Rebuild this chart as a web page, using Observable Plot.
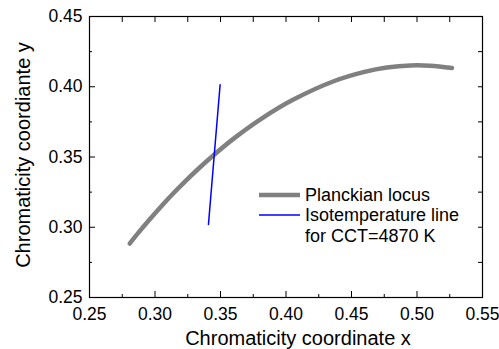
<!DOCTYPE html>
<html>
<head>
<meta charset="utf-8">
<script src="https://cdn.jsdelivr.net/npm/d3@7"></script>
<script src="https://cdn.jsdelivr.net/npm/@observablehq/plot@0.6"></script>
<style>
  html, body { margin: 0; padding: 0; background: #fff; }
  #chart { width: 499px; height: 349px; }
</style>
</head>
<body>
<div id="chart"></div>
<script>
// Planckian locus (CIE 1931 x, y)
const locusX = [0.2807, 0.2869, 0.2952, 0.3064, 0.3135, 0.3221, 0.3325, 0.3451, 0.3608, 0.3805, 0.4053, 0.4369, 0.4599, 0.4770, 0.4950, 0.5100, 0.5267];
const locusY = [0.2884, 0.2956, 0.3048, 0.3166, 0.3237, 0.3318, 0.3411, 0.3516, 0.3636, 0.3768, 0.3907, 0.4041, 0.4106, 0.4137, 0.4152, 0.4150, 0.4133];
// Isotemperature line for CCT = 4870 K
const isoX = [0.3408, 0.3497];
const isoY = [0.3020, 0.4014];
// Axis ticks
const xMajor = [0.25, 0.30, 0.35, 0.40, 0.45, 0.50, 0.55];
const xMinor = [0.275, 0.325, 0.375, 0.425, 0.475, 0.525];
const yMajor = [0.25, 0.30, 0.35, 0.40, 0.45];
const yMinor = [0.275, 0.325, 0.375, 0.425];
const legendLabels = ["Planckian locus", "Isotemperature line", "for CCT=4870 K"];
const xLabel = "Chromaticity coordinate x";
const yLabel = "Chromaticity coordiante y";

const locus = locusX.map((x, i) => ({x, y: locusY[i]}));
const iso = isoX.map((x, i) => ({x, y: isoY[i]}));
const xAll = [...xMajor, ...xMinor];
const yAll = [...yMajor, ...yMinor];
const fmt = d3.format(".2f");
const blank = () => "";
const FONT = "'Liberation Sans', Arial, sans-serif";

const plot = Plot.plot({
  width: 499,
  height: 349,
  marginLeft: 89,
  marginRight: 17,
  marginTop: 16,
  marginBottom: 52,
  style: {fontFamily: FONT, background: "#fff", color: "#000"},
  x: {domain: [0.25, 0.55]},
  y: {domain: [0.25, 0.45]},
  marks: [
    Plot.line(locus, {x: "x", y: "y", stroke: "#808080", strokeWidth: 4.5, curve: "catmull-rom"}),
    Plot.line(iso, {x: "x", y: "y", stroke: "#0000ff", strokeWidth: 1.5}),
    // bottom axis
    Plot.axisX(xMajor, {anchor: "bottom", tickSize: -6, tickPadding: 16, tickFormat: fmt, fontSize: 17.5, label: null}),
    Plot.axisX(xMinor, {anchor: "bottom", tickSize: -3, tickFormat: blank, label: null}),
    // top axis
    Plot.axisX(xAll, {anchor: "top", tickSize: -5, tickFormat: blank, label: null}),
    // left axis
    Plot.axisY(yMajor, {anchor: "left", tickSize: -6, tickPadding: 13, tickFormat: fmt, fontSize: 17.5, label: null}),
    Plot.axisY(yMinor, {anchor: "left", tickSize: -3, tickFormat: blank, label: null}),
    // right axis
    Plot.axisY(yAll, {anchor: "right", tickSize: -5, tickFormat: blank, label: null}),
    Plot.frame({stroke: "#000", strokeWidth: 1.2}),
    Plot.text([xLabel], {frameAnchor: "bottom", dx: 12, dy: 41.5, fontSize: 20, lineAnchor: "middle", textAnchor: "middle"}),
    Plot.text([yLabel], {frameAnchor: "left", rotate: -90, dx: -66, dy: -2, fontSize: 20, lineAnchor: "middle", textAnchor: "middle"})
  ]
});

document.getElementById("chart").appendChild(plot);

// Legend inside the plot area
const svg = d3.select(plot);
const lg = svg.append("g")
  .attr("font-family", FONT)
  .attr("font-size", 18)
  .attr("text-anchor", "start");
const swatches = [{stroke: "#808080", w: 4.5, y: 195}, {stroke: "#0000ff", w: 1.5, y: 215}];
swatches.forEach(s => {
  lg.append("line").attr("x1", 259).attr("x2", 300).attr("y1", s.y).attr("y2", s.y)
    .attr("stroke", s.stroke).attr("stroke-width", s.w);
});
const baselines = [200.5, 221, 241.5];
legendLabels.forEach((t, i) => {
  lg.append("text").attr("x", 305).attr("y", baselines[i]).attr("fill", "#000")
    .attr("text-anchor", "start").text(t);
});
</script>
</body>
</html>
